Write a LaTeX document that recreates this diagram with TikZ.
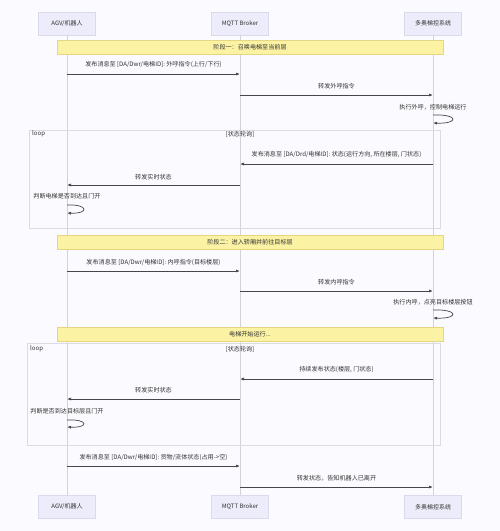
\documentclass[tikz,border=0pt]{standalone}
\usepackage{fontspec}
\setmainfont{Noto Sans CJK SC}
\usetikzlibrary{arrows.meta}
\definecolor{actorfill}{HTML}{ECECFA}
\definecolor{actorline}{HTML}{DADAEE}
\definecolor{notefill}{HTML}{FBF2A3}
\definecolor{noteline}{HTML}{E4D683}
\definecolor{lifegray}{HTML}{D2D2D8}
\definecolor{txtcol}{HTML}{333333}
\tikzset{
  actor/.style={draw=actorline, fill=actorfill, minimum width=57pt, minimum height=23pt, font=\fontsize{6}{7}\selectfont, text=txtcol},
  note/.style={draw=noteline, fill=notefill, minimum width=386pt, minimum height=14pt, inner sep=0pt, font=\fontsize{6.1}{7}\selectfont, text=txtcol},
  lifeline/.style={draw=lifegray, line width=0.6pt},
  loopbox/.style={draw=lifegray!80, line width=0.6pt},
  msg/.style={draw=txtcol!90, line width=0.7pt, -{Latex[length=4pt,width=3pt]}},
  lbl/.style={font=\fontsize{6.1}{7}\selectfont, text=txtcol, inner sep=0pt}
}
\begin{document}
\begin{tikzpicture}[x=1pt, y=-1pt]
	% background
	\fill[white!96!blue!40!white] (0,0) rectangle (500,531);
	\useasboundingbox (0,0) rectangle (500,531);
	% actors
	\node[actor] (agvT) at (67,23.5) {AGV/机器人};
	\node[actor] (mqttT) at (240,23.5) {MQTT Broker};
	\node[actor] (ductT) at (433,23.5) {多奥梯控系统};
	\node[actor] (agvB) at (67,507) {AGV/机器人};
	\node[actor] (mqttB) at (240,507) {MQTT Broker};
	\node[actor] (ductB) at (433,507) {多奥梯控系统};
	% lifelines
	\draw[lifeline] (agvT) -- (agvB);
	\draw[lifeline] (mqttT) -- (mqttB);
	\draw[lifeline] (ductT) -- (ductB);
	% loop boxes
	\draw[loopbox] (29,130) rectangle (440,228);
	\node[lbl, anchor=west] (loopA) at (32,134) {loop};
	\node[lbl] (condA) at (240,134) {[状态轮询]};
	\draw[loopbox] (27,343) rectangle (440,445);
	\node[lbl, anchor=west] (loopB) at (30,349) {loop};
	\node[lbl] (condB) at (240,349) {[状态轮询]};
	% stage notes
	\node[note] (noteA) at (250,47) {阶段一：召唤电梯至当前层};
	\node[note] (noteB) at (250,242.5) {阶段二：进入轿厢并前往目标层};
	\node[note] (noteC) at (250,334) {电梯开始运行...};
	% stage one
	\draw[msg] (agvT |- 0,74) -- (mqttT |- 0,74) node[lbl, midway, yshift=9pt] {发布消息至 [DA/Dwr/电梯ID]: 外呼指令(上行/下行)};
	\draw[msg] (mqttT |- 0,95) -- (ductT |- 0,95) node[lbl, midway, yshift=9pt] {转发外呼指令};
	\node[lbl] (selfA) at (433,107) {执行外呼，控制电梯运行};
	\draw[msg] (ductT |- 0,115) .. controls +(26,-1) and +(26,1) .. (ductT |- 0,123);
	% polling one
	\draw[msg] (ductT |- 0,164) -- (mqttT |- 0,164) node[lbl, midway, yshift=9pt] {发布消息至 [DA/Drd/电梯ID]: 状态(运行方向, 所在楼层, 门状态)};
	\draw[msg] (mqttT |- 0,185) -- (agvT |- 0,185) node[lbl, midway, yshift=8pt] {转发实时状态};
	\node[lbl] (selfB) at (67,196) {判断电梯是否到达且门开};
	\draw[msg] (agvT |- 0,205) .. controls +(22,-1) and +(22,1) .. (agvT |- 0,213);
	% stage two
	\draw[msg] (agvT |- 0,271) -- (mqttT |- 0,271) node[lbl, midway, yshift=9pt] {发布消息至 [DA/Dwr/电梯ID]: 内呼指令(目标楼层)};
	\draw[msg] (mqttT |- 0,291) -- (ductT |- 0,291) node[lbl, midway, yshift=9pt] {转发内呼指令};
	\node[lbl] (selfC) at (433,302) {执行内呼，点亮目标楼层按钮};
	\draw[msg] (ductT |- 0,310) .. controls +(26,-1) and +(26,1) .. (ductT |- 0,318);
	% polling two
	\draw[msg] (ductT |- 0,379) -- (mqttT |- 0,379) node[lbl, midway, yshift=9pt] {持续发布状态(楼层, 门状态)};
	\draw[msg] (mqttT |- 0,399) -- (agvT |- 0,399) node[lbl, midway, yshift=9pt] {转发实时状态};
	\node[lbl] (selfD) at (67,411) {判断是否到达目标层且门开};
	\draw[msg] (agvT |- 0,420) .. controls +(22,-1) and +(22,1) .. (agvT |- 0,427);
	% leaving
	\draw[msg] (agvT |- 0,466) -- (mqttT |- 0,466) node[lbl, midway, yshift=9pt] {发布消息至 [DA/Dwr/电梯ID]: 货物/流体状态(占用->空)};
	\draw[msg] (mqttT |- 0,487) -- (ductT |- 0,487) node[lbl, midway, yshift=9pt] {转发状态，告知机器人已离开};
\end{tikzpicture}
\end{document}
